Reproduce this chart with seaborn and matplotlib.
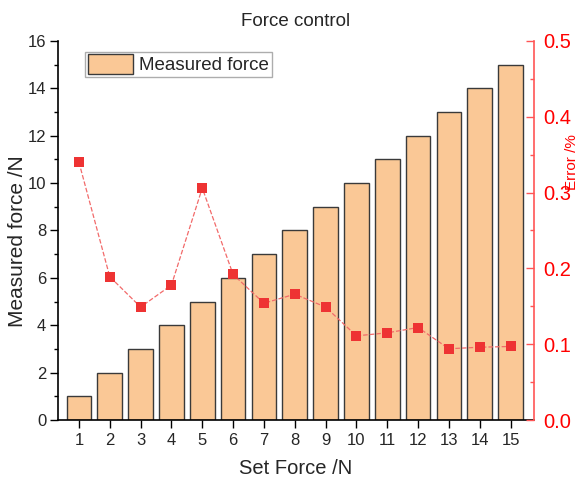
import pandas as pd
import matplotlib.pyplot as plt
import seaborn as sns
from matplotlib.ticker import AutoMinorLocator, MultipleLocator

# data
set_force = [1, 2, 3, 4, 5, 6, 7, 8, 9, 10, 11, 12, 13, 14, 15]
measured_force = [1, 2, 3, 4, 5, 6, 7, 8, 9, 10, 11, 12, 13, 14, 15]
error_pct = [0.340, 0.189, 0.149, 0.178, 0.306, 0.192, 0.154, 0.166,
             0.149, 0.111, 0.115, 0.122, 0.094, 0.096, 0.097]

df = pd.DataFrame({"set": set_force, "measured": measured_force, "error": error_pct})

sns.set_theme(style="ticks")
plt.rcParams['font.family'] = ['Liberation Sans', 'DejaVu Sans']

red = "#EE3333"

fig = plt.figure(figsize=(5.81, 4.8), dpi=100)
ax = fig.add_axes([0.0998, 0.125, 0.8193, 0.7896])

sns.barplot(data=df, x="set", y="measured", native_scale=True, ax=ax,
            color="#FAC896", saturation=1, edgecolor="#3a3a3a", linewidth=1,
            width=0.8, label="Measured force")

ax.set_xlim(0.32, 15.76)
ax.set_ylim(0, 16)
ax.set_xticks(set_force)
ax.yaxis.set_major_locator(MultipleLocator(2))
ax.yaxis.set_minor_locator(AutoMinorLocator(2))
ax.tick_params(axis="both", which="major", labelsize=12, length=6, width=1, color="black")
ax.tick_params(axis="y", which="major", pad=2.5)
ax.tick_params(axis="y", which="minor", length=3, width=1, color="black")
ax.tick_params(axis="x", which="minor", length=0)
for s in ["left", "bottom"]:
    ax.spines[s].set_color("black")
    ax.spines[s].set_linewidth(1.2)
ax.spines["top"].set_visible(False)
ax.spines["right"].set_visible(False)
ax.set_xlabel("Set Force /N", fontsize=14.5)
ax.set_ylabel("Measured force /N", fontsize=15)
ax.xaxis.set_label_coords(0.5, -0.103)
ax.yaxis.set_label_coords(-0.066, 0.472)
ax.set_title("Force control", fontsize=13.5, pad=11)

ax.legend(loc="upper left", bbox_to_anchor=(0.057, 0.972), fontsize=13.5, frameon=True,
          fancybox=False, edgecolor="#999999", handlelength=2.4, handleheight=1.2,
          borderpad=0.15, handletextpad=0.35, borderaxespad=0)

# secondary axis with the error values
ax2 = ax.twinx()
sns.lineplot(data=df, x="set", y="error", ax=ax2, color=red, marker="s",
             markersize=7, markeredgewidth=0, linestyle="--", linewidth=0.9,
             legend=False)
ax2.lines[0].set_color("#F26A6A")
ax2.lines[0].set_markerfacecolor(red)
ax2.set_ylim(0, 0.5)
ax2.set_xlim(0.32, 15.76)
ax2.yaxis.set_major_locator(MultipleLocator(0.1))
ax2.yaxis.set_minor_locator(AutoMinorLocator(2))
ax2.yaxis.set_major_formatter(plt.FuncFormatter(lambda v, p: f"{v:.1f}"))
ax2.tick_params(axis="y", which="major", direction="in", length=6, width=1,
                colors="#FF5555", labelsize=14.5, pad=7)
ax2.tick_params(axis="y", which="minor", direction="in", length=3, width=1, color="#FF5555")
for t in ax2.get_yticklabels():
    t.set_color("#FF0000")
ax2.spines["right"].set_color("#FF5555")
ax2.spines["right"].set_linewidth(1.2)
for s in ["top", "left", "bottom"]:
    ax2.spines[s].set_visible(False)
ax2.set_ylabel("Error /%", fontsize=11, color="#FF0000", rotation=90)
ax2.yaxis.set_label_coords(1.066, 0.68)

fig.savefig("out.png", dpi=100)
plt.close()
